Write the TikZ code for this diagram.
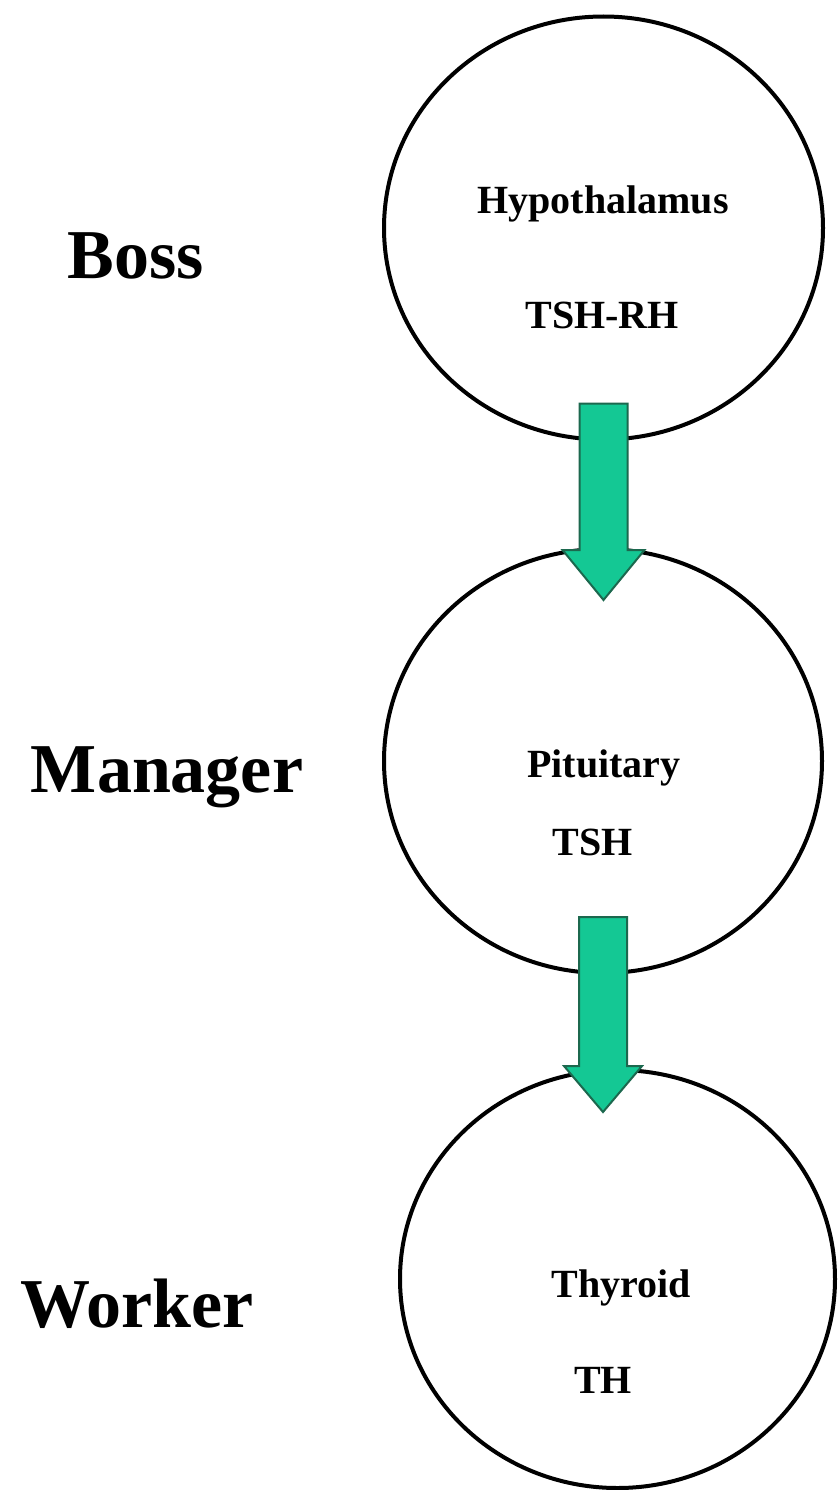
\documentclass[tikz,border=0pt]{standalone}
\usepackage{fontspec}
\setmainfont{Liberation Serif}
\usetikzlibrary{shapes.geometric,calc}
\definecolor{arrowfill}{RGB}{20,200,148}
\definecolor{arrowline}{RGB}{28,104,78}
\tikzset{
  gland/.style={draw=black, line width=4pt, ellipse, inner sep=0pt, fill=none},
  inlabel/.style={anchor=base, inner sep=0pt, font=\fontsize{40}{44}\selectfont\bfseries},
  rolelabel/.style={anchor=base, inner sep=0pt, font=\fontsize{70}{76}\selectfont\bfseries},
  fatarrow/.style={fill=arrowfill, draw=arrowline, line width=2pt, line join=miter}
}
\begin{document}
\begin{tikzpicture}[x=1pt,y=-1pt]
\useasboundingbox (0,0) rectangle (839,1490);
\fill[white] (0,0) rectangle (839,1490);
% glands
\node[gland, minimum width=439pt, minimum height=423pt] (c1) at (603.5,228) {};
\node[gland, minimum width=438pt, minimum height=424pt] (c2) at (603,761) {};
\node[gland, minimum width=435pt, minimum height=418pt] (c3) at (617.5,1279) {};
% inner texts
\node[inlabel] (hyp) at (603,213) {Hypothalamus};
\node[inlabel] (tshrh) at (602,328) {TSH-RH};
\node[inlabel] (pit) at (604,777) {Pituitary};
\node[inlabel] (tsh) at (593,855) {TSH};
\node[inlabel] (thy) at (621,1297) {Thyroid};
\node[inlabel] (th) at (603,1393) {TH};
% role texts
\node[rolelabel] (boss) at (135.5,278) {Boss};
\node[rolelabel] (mgr) at (167,792) {Manager};
\node[rolelabel] (wrk) at (137,1327) {Worker};
% arrows
\coordinate (a1top) at ([yshift=38pt]c1.south);
\coordinate (a1tip) at ([yshift=-53pt]c2.north);
\coordinate (a2top) at ([yshift=58pt]c2.south);
\coordinate (a2tip) at ([yshift=-44pt]c3.north);
\draw[fatarrow] let \p1=(a1top), \p2=(a1tip) in
  (\x1-24pt,\y1) -- (\x1+24pt,\y1) -- (\x1+24pt,\y2+50pt) -- (\x1+41pt,\y2+50pt)
  -- (\x1,\y2) -- (\x1-41pt,\y2+50pt) -- (\x1-24pt,\y2+50pt) -- cycle;
\draw[fatarrow] let \p1=(a2top), \p2=(a2tip) in
  (\x1-24pt,\y1) -- (\x1+24pt,\y1) -- (\x1+24pt,\y2+46pt) -- (\x1+39pt,\y2+46pt)
  -- (\x1,\y2) -- (\x1-39pt,\y2+46pt) -- (\x1-24pt,\y2+46pt) -- cycle;
\end{tikzpicture}
\end{document}
